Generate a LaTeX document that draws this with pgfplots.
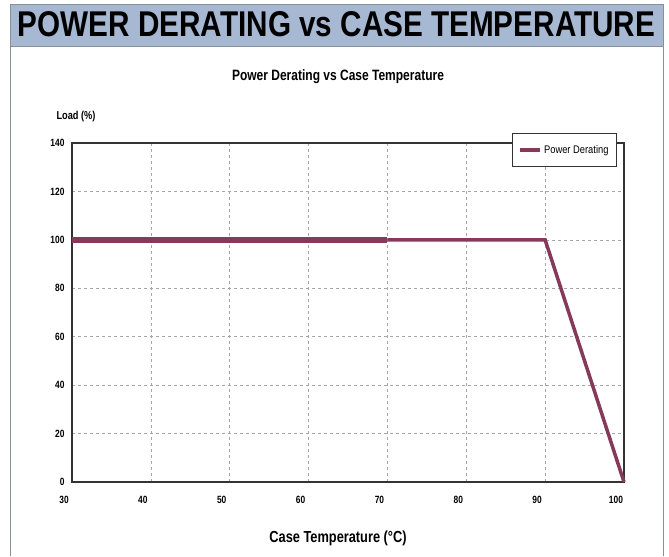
\documentclass[border=0pt]{standalone}
\usepackage{pgfplots}
\pgfplotsset{compat=1.18}
\usepackage{fontspec}
\setmainfont{Liberation Sans}
\newfontfamily\narrowfont[FakeStretch=0.8]{Liberation Sans}
\newfontfamily\legfont[FakeStretch=0.85]{Liberation Sans}
\definecolor{hdr}{HTML}{A7B8D2}
\definecolor{line}{HTML}{853A5C}
\definecolor{frame}{HTML}{8A8F96}
\begin{document}
\begin{tikzpicture}[x=1pt,y=1pt]
\fill[white] (0,0) rectangle (669,556);
% panel borders
\draw[frame,line width=1pt] (10,0) -- (10,509);
\draw[frame,line width=1pt] (663,0) -- (663,509);
\fill[hdr] (10,509) rectangle (663,551);
\draw[frame,line width=1pt] (10,509) rectangle (663,551);
\node[anchor=base] at (336.5,519) {\resizebox{637pt}{25pt}{\narrowfont\bfseries POWER DERATING vs CASE TEMPERATURE}};
% titles
\node at (338,479) {\narrowfont\bfseries\fontsize{15}{17}\selectfont Power Derating vs Case Temperature};
\node at (76,439) {\narrowfont\bfseries\fontsize{11.5}{13}\selectfont Load (\%)};
\node at (338,18) {\narrowfont\bfseries\fontsize{16}{18}\selectfont Case Temperature (\textdegree C)};
\begin{axis}[
  at={(72pt,74pt)}, anchor=south west,
  scale only axis, width=552pt, height=339pt,
  xmin=30, xmax=100, ymin=0, ymax=140,
  xtick={30,40,...,100}, ytick={0,20,...,140},
  major tick length=0pt,
  grid=major,
  major grid style={dashed, gray!70, line width=0.5pt},
  axis line style={black!80, line width=1.2pt},
  tick label style={font=\narrowfont\bfseries\fontsize{10.5}{11}\selectfont},
  /pgf/number format/assume math mode=true,
  xticklabel style={anchor=center, yshift=-18pt, xshift=-8pt},
  yticklabel style={anchor=east, xshift=-4pt},
  legend style={at={(0.987,1.0295)}, anchor=north east, draw=black!80, line width=0.6pt,
    font=\legfont\fontsize{11}{12}\selectfont, inner ysep=10pt, inner xsep=6pt,
    legend cell align=left},
  legend image code/.code={\draw[line width=3.5pt,line] (0pt,0pt) -- (20pt,0pt);},
  clip=false,
]
\addplot[line, line width=6pt, forget plot] coordinates {(30,100) (70,100)};
\addplot[line, line width=3.5pt] coordinates {(70,100) (90,100) (100,0)};
\addlegendentry{Power Derating}
\end{axis}
\end{tikzpicture}
\end{document}
